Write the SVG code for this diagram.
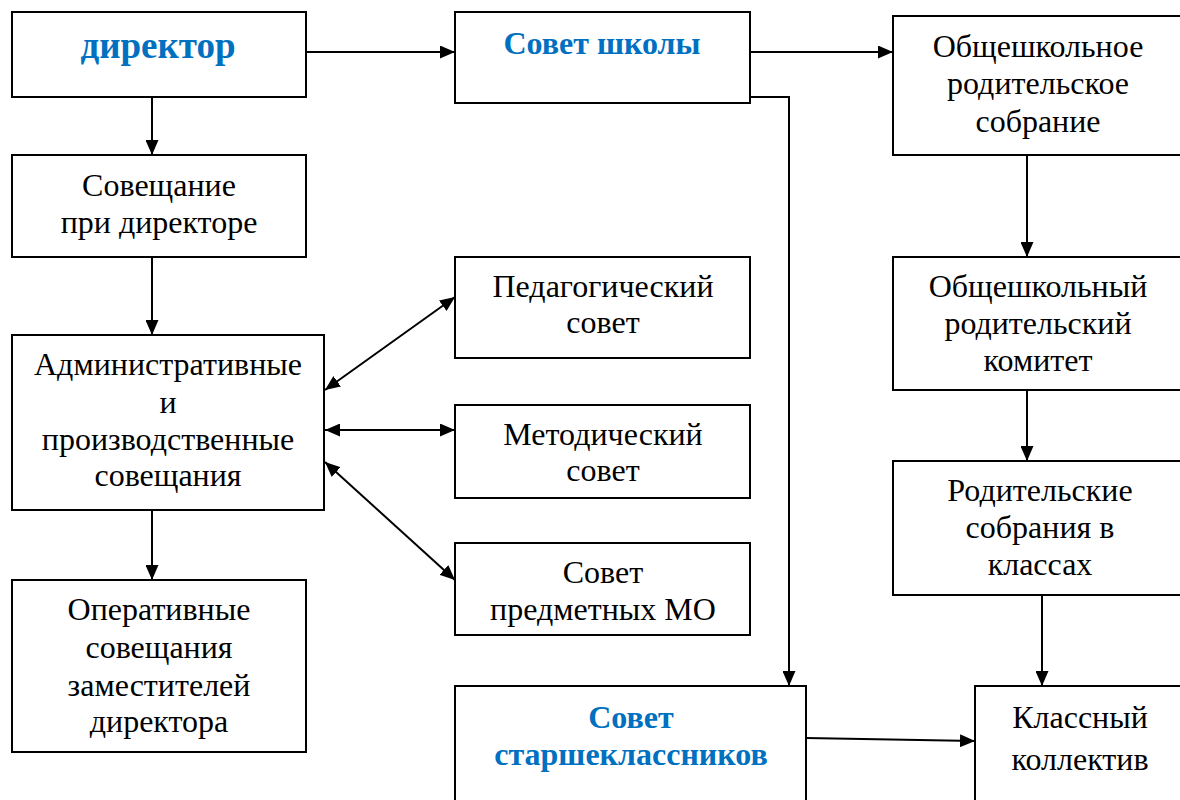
<svg xmlns="http://www.w3.org/2000/svg" width="1180" height="800" viewBox="0 0 1180 800">
<style>
.box{fill:#fff;stroke:#000;stroke-width:2}
text{font-family:'Liberation Serif','Times New Roman','DejaVu Serif',serif}
.t{font-size:32px;fill:#000;text-anchor:middle}
.b{font-weight:bold;fill:#0070C0;text-anchor:middle}
.c{stroke:#000;stroke-width:2;fill:none}
</style>
<defs>
<marker id="ah" viewBox="0 0 15 13" refX="15" refY="6.5" markerWidth="15" markerHeight="13" markerUnits="userSpaceOnUse" orient="auto-start-reverse">
<path d="M0,0 L15,6.5 L0,13 Z" fill="#000"/>
</marker>
</defs>
<rect width="1180" height="800" fill="#fff"/>
<g id="connectors">
<line class="c" x1="306" y1="52" x2="455" y2="52" marker-end="url(#ah)"/>
<line class="c" x1="750" y1="52" x2="893" y2="52" marker-end="url(#ah)"/>
<polyline class="c" points="750,97 789,97 789,686" marker-end="url(#ah)"/>
<line class="c" x1="1027" y1="155" x2="1027" y2="257" marker-end="url(#ah)"/>
<line class="c" x1="1027" y1="390" x2="1027" y2="461" marker-end="url(#ah)"/>
<line class="c" x1="1042" y1="595" x2="1042" y2="686" marker-end="url(#ah)"/>
<line class="c" x1="806" y1="738" x2="975" y2="741" marker-end="url(#ah)"/>
<line class="c" x1="152" y1="97" x2="152" y2="155" marker-end="url(#ah)"/>
<line class="c" x1="152" y1="257" x2="152" y2="335" marker-end="url(#ah)"/>
<line class="c" x1="152" y1="510" x2="152" y2="580" marker-end="url(#ah)"/>
<line class="c" x1="325" y1="390" x2="455" y2="297" marker-start="url(#ah)" marker-end="url(#ah)"/>
<line class="c" x1="325" y1="430" x2="455" y2="430" marker-start="url(#ah)" marker-end="url(#ah)"/>
<line class="c" x1="325" y1="462" x2="455" y2="580" marker-start="url(#ah)" marker-end="url(#ah)"/>
</g>
<g id="director">
<rect class="box" x="12" y="12" width="294" height="85"/>
<text class="b" x="158" y="58" font-size="37">директор</text>
</g>
<g id="school-council">
<rect class="box" x="455" y="12" width="295" height="91"/>
<text class="b" x="602" y="54" font-size="32">Совет школы</text>
</g>
<g id="parent-meeting">
<rect class="box" x="893" y="16" width="300" height="139"/>
<text class="t" x="1038" y="57">Общешкольное</text>
<text class="t" x="1038" y="94">родительское</text>
<text class="t" x="1038" y="132">собрание</text>
</g>
<g id="director-meeting">
<rect class="box" x="12" y="155" width="294" height="102"/>
<text class="t" x="159" y="196">Совещание</text>
<text class="t" x="159" y="233">при директоре</text>
</g>
<g id="admin-meetings">
<rect class="box" x="12" y="335" width="312" height="175"/>
<text class="t" x="168" y="375">Административные</text>
<text class="t" x="168" y="413">и</text>
<text class="t" x="168" y="450">производственные</text>
<text class="t" x="168" y="486">совещания</text>
</g>
<g id="operative-meetings">
<rect class="box" x="12" y="580" width="294" height="172"/>
<text class="t" x="159" y="620">Оперативные</text>
<text class="t" x="159" y="658">совещания</text>
<text class="t" x="159" y="696">заместителей</text>
<text class="t" x="159" y="732">директора</text>
</g>
<g id="ped-council">
<rect class="box" x="455" y="257" width="295" height="101"/>
<text class="t" x="603" y="297">Педагогический</text>
<text class="t" x="603" y="333">совет</text>
</g>
<g id="method-council">
<rect class="box" x="455" y="405" width="295" height="93"/>
<text class="t" x="603" y="445">Методический</text>
<text class="t" x="603" y="481">совет</text>
</g>
<g id="mo-council">
<rect class="box" x="455" y="543" width="295" height="92"/>
<text class="t" x="603" y="583">Совет</text>
<text class="t" x="603" y="620">предметных МО</text>
</g>
<g id="parent-committee">
<rect class="box" x="893" y="257" width="300" height="133"/>
<text class="t" x="1038" y="297">Общешкольный</text>
<text class="t" x="1038" y="334">родительский</text>
<text class="t" x="1038" y="371">комитет</text>
</g>
<g id="class-parent-meetings">
<rect class="box" x="893" y="461" width="300" height="134"/>
<text class="t" x="1040" y="501">Родительские</text>
<text class="t" x="1040" y="538">собрания в</text>
<text class="t" x="1040" y="575">классах</text>
</g>
<g id="senior-council">
<rect class="box" x="455" y="686" width="351" height="130"/>
<text class="b" x="631" y="728" font-size="32">Совет</text>
<text class="b" x="631" y="765" font-size="32">старшеклассников</text>
</g>
<g id="class-collective">
<rect class="box" x="975" y="686" width="220" height="130"/>
<text class="t" x="1080" y="728">Классный</text>
<text class="t" x="1080" y="770">коллектив</text>
</g>
</svg>
